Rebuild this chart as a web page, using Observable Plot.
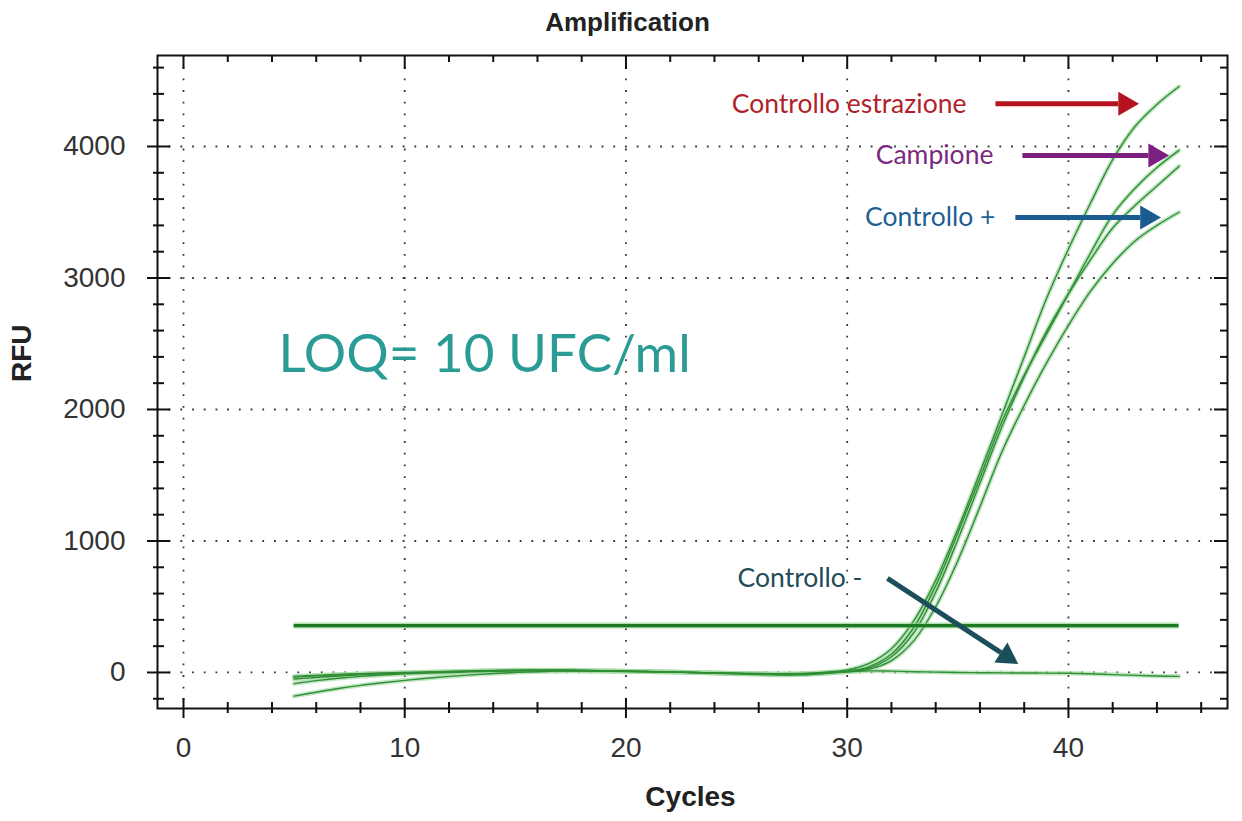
<!DOCTYPE html>
<html><head><meta charset="utf-8">
<script src="https://cdn.jsdelivr.net/npm/d3@7"></script>
<script src="https://cdn.jsdelivr.net/npm/@observablehq/plot@0.6"></script>
<style>html,body{margin:0;padding:0;background:#fff}#chart svg{display:block}</style>
</head><body><div id="chart"></div>
<script>
// ---- data ----
const cycles = [5,6,7,8,9,10,11,12,13,14,15,16,17,18,19,20,21,22,23,24,25,26,27,28,29,30,31,32,33,34,35,36,37,38,39,40,41,42,43,44,45];
const curveEstrazione = [-30,-22,-15,-9,-4,0,4,8,12,15,18,19,19,17,14,11,8,5,1,-3,-7,-10,-12,-10,2,20,70,180,390,700,1090,1520,1960,2400,2840,3220,3570,3900,4150,4320,4456];
const curveCampione = [-50,-38,-27,-18,-10,-4,1,6,10,13,15,16,16,15,13,10,7,4,0,-4,-8,-12,-15,-14,-4,10,45,140,340,660,1060,1480,1910,2260,2570,2880,3190,3480,3680,3840,3970];
const curveReplica = [-85,-62,-44,-30,-19,-11,-5,0,5,9,12,14,15,14,12,10,7,3,-1,-6,-11,-16,-19,-18,-8,8,35,120,300,610,1010,1440,1870,2250,2590,2880,3140,3380,3550,3700,3850];
const curveControlloPos = [-35,-26,-18,-12,-7,-3,1,5,9,12,14,15,15,13,11,9,6,3,0,-4,-8,-12,-14,-13,-5,5,25,90,240,500,850,1260,1680,2030,2350,2640,2900,3110,3280,3400,3500];
const curveControlloNeg = [-180,-150,-122,-98,-78,-60,-44,-30,-18,-8,0,6,10,10,9,7,5,3,0,-3,-6,-8,-9,-7,-2,6,12,10,6,3,0,-2,-3,-4,-5,-6,-10,-16,-22,-27,-30];
const seriesNames = ["Controllo estrazione","Campione","Replica","Controllo +","Controllo -"];
const thresholdRFU = [357];
const thresholdCycles = [5,45];

const xMajorTicks = [0,10,20,30,40];
const xMinorTicks = [2,4,6,8,12,14,16,18,22,24,26,28,32,34,36,38,42,44,46];
const yMajorTicks = [0,1000,2000,3000,4000];
const yMinorTicks = [-200,200,400,600,800,1200,1400,1600,1800,2200,2400,2600,2800,3200,3400,3600,3800,4200,4400,4600];

const labelTexts = ["Controllo estrazione","Campione","Controllo +","Controllo -"];
const labelCycles = [35.39,36.61,36.70,30.69];
const labelRFU = [4319,3932,3460,715];
const labelColors = ["#b21f2d","#7a2a7e","#1f5f93","#1e4b58"];
const arrowFromCycle = [36.70,37.92,37.60,31.82];
const arrowFromRFU = [4325,3932,3460,715];
const arrowBaseCycle = [42.26,43.62,43.25,36.95];
const arrowBaseRFU = [4325,3932,3460,151];
const arrowColors = ["#b5141f","#7b1f80","#1a5b92","#1b4e5b"];
const arrowAngles = [0,0,0,33.2];

const loqText = ["LOQ= 10 UFC/ml"];
const loqCycle = [4.29];
const loqRFU = [2411];

// ---- build tables ----
const seriesValues = [curveEstrazione,curveCampione,curveReplica,curveControlloPos,curveControlloNeg];
const rows = seriesValues.flatMap((vals,k) => cycles.map((c,i) => ({cycle:c, rfu:vals[i], name:seriesNames[k]})));
const labels = labelTexts.map((t,i) => ({text:t, cycle:labelCycles[i], rfu:labelRFU[i], color:labelColors[i]}));
const arrows = arrowColors.map((col,i) => ({x1:arrowFromCycle[i], y1:arrowFromRFU[i], x2:arrowBaseCycle[i], y2:arrowBaseRFU[i], color:col, angle:arrowAngles[i]}));

const W = 1242, H = 821, mL = 157, mR = 15, mT = 55, mB = 113;
const fw = W - mL - mR, fh = H - mT - mB;
const HEAD = 6.8;

const chart = Plot.plot({
  width: W, height: H,
  marginLeft: mL, marginRight: mR, marginTop: mT, marginBottom: mB,
  style: {fontFamily: "'Liberation Sans', Arial, sans-serif", fontSize: "28px", color: "#333", background: "#fff"},
  x: {domain: [-1.175, 47.19], ticks: xMajorTicks, tickSize: 0, tickPadding: 29, tickFormat: d => String(d), label: null},
  y: {domain: [-274, 4692], ticks: yMajorTicks, tickSize: 0, tickPadding: 32, tickFormat: d => String(d), label: null},
  marks: [
    // dotted grid
    Plot.ruleX(xMajorTicks, {x: d => d, stroke: "#222", strokeWidth: 1.8, strokeDasharray: "1.8,9.9", strokeOpacity: 0.9}),
    Plot.ruleY(yMajorTicks, {y: d => d, stroke: "#222", strokeWidth: 1.8, strokeDasharray: "1.8,9.9", strokeOpacity: 0.9}),
    // curves: halo + core
    Plot.line(rows, {x: "cycle", y: "rfu", z: "name", stroke: "#a6dca6", strokeWidth: 4.5, strokeOpacity: 0.7, curve: "catmull-rom"}),
    Plot.line(rows, {x: "cycle", y: "rfu", z: "name", stroke: "#2f8d35", strokeWidth: 1.4, curve: "catmull-rom"}),
    // threshold
    Plot.ruleY(thresholdRFU, {y: d => d, x1: thresholdCycles[0], x2: thresholdCycles[1], stroke: "#7ccf7c", strokeWidth: 6, strokeOpacity: 0.6}),
    Plot.ruleY(thresholdRFU, {y: d => d, x1: thresholdCycles[0], x2: thresholdCycles[1], stroke: "#1d7a22", strokeWidth: 3.2}),
    // LOQ text
    Plot.text(loqText, {x: () => loqCycle[0], y: () => loqRFU[0], text: d => d, textAnchor: "start", lineAnchor: "middle", fill: "#2b9b95", fontSize: 53, fontFamily: "Lato, 'Noto Sans', sans-serif"}),
    // annotation labels
    Plot.text(labels, {x: "cycle", y: "rfu", text: "text", fill: "color", textAnchor: "end", lineAnchor: "middle", fontSize: 26.5, fontFamily: "Lato, 'Noto Sans', sans-serif"}),
    // arrows
    Plot.link(arrows, {x1: "x1", y1: "y1", x2: "x2", y2: "y2", stroke: "color", strokeWidth: 5}),
    Plot.dot(arrows, {x: "x2", y: "y2", fill: "color", symbol: "triangle", r: 8.9, rotate: d => 90 + d.angle, stroke: "none"}),
    // frame
    Plot.frame({stroke: "#111", strokeWidth: 2}),
    // left ticks (crossing)
    Plot.tickY(yMajorTicks, {y: d => d, insetRight: fw - 23, dx: -10, stroke: "#111", strokeWidth: 2}),
    Plot.tickY(yMinorTicks, {y: d => d, insetRight: fw - 11, dx: -4, stroke: "#111", strokeWidth: 2}),
    // right ticks (inward)
    Plot.tickY(yMajorTicks, {y: d => d, insetLeft: fw - 13, stroke: "#111", strokeWidth: 2}),
    Plot.tickY(yMinorTicks, {y: d => d, insetLeft: fw - 7, stroke: "#111", strokeWidth: 2}),
    // bottom ticks (crossing)
    Plot.tickX(xMajorTicks, {x: d => d, insetTop: fh - 20, dy: 10, stroke: "#111", strokeWidth: 2}),
    Plot.tickX(xMinorTicks, {x: d => d, insetTop: fh - 11, dy: 5, stroke: "#111", strokeWidth: 2}),
    // top ticks (inward)
    Plot.tickX(xMajorTicks, {x: d => d, insetBottom: fh - 14, stroke: "#111", strokeWidth: 2}),
    Plot.tickX(xMinorTicks, {x: d => d, insetBottom: fh - 7, stroke: "#111", strokeWidth: 2}),
    // titles
    Plot.text(["Amplification"], {text: d => d, frameAnchor: "top", dy: -33, dx: -65, lineAnchor: "middle", fontWeight: "bold", fontSize: 26, fill: "#222"}),
    Plot.text(["Cycles"], {text: d => d, frameAnchor: "bottom", dy: 89, dx: -2, lineAnchor: "middle", fontWeight: "bold", fontSize: 28, fill: "#222"}),
    Plot.text(["RFU"], {text: d => d, frameAnchor: "left", dx: -135, rotate: -90, lineAnchor: "middle", fontWeight: "bold", fontSize: 28, fill: "#222"})
  ]
});
document.getElementById("chart").appendChild(chart);

// shift arrow heads forward so their base sits at the shaft end
d3.select(chart).selectAll("g[aria-label='dot'] path").each(function(d, i) {
  const a = arrows[i].angle * Math.PI / 180;
  const el = d3.select(this);
  const t = el.attr("transform") || "";
  el.attr("transform", `translate(${HEAD*Math.cos(a)},${HEAD*Math.sin(a)}) ` + t);
});
</script>
</body></html>
